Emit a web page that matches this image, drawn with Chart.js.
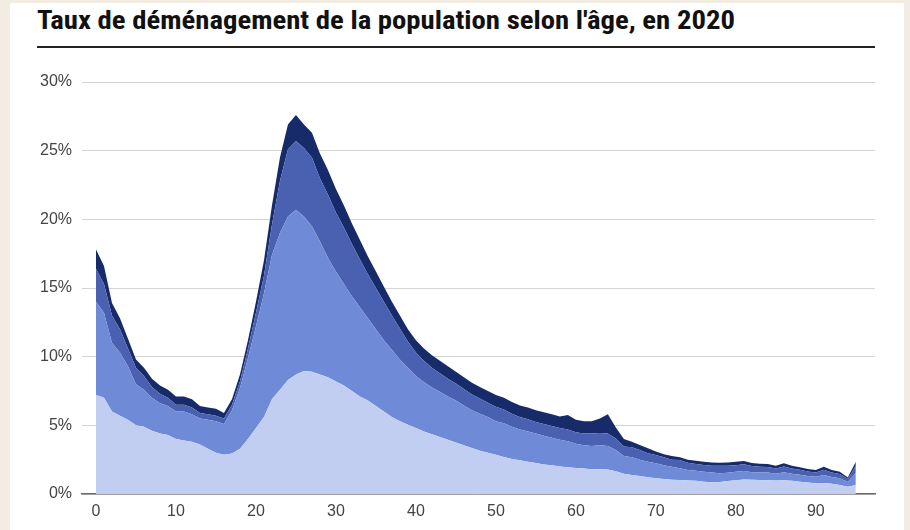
<!DOCTYPE html>
<html lang="fr">
<head>
<meta charset="utf-8">
<title>Taux de déménagement selon l'âge</title>
<script src="https://cdn.jsdelivr.net/npm/chart.js@4.4.1/dist/chart.umd.min.js"></script>
<style>
  html, body { margin: 0; padding: 0; }
  body { width: 910px; height: 530px; background: #f3ece3; position: relative; overflow: hidden; }
  #panel { position: absolute; left: 10px; top: 3px; width: 894px; height: 527px; background: #fff; }
  #title {
    position: absolute; left: 37px; top: 6px; margin: 0; display: inline-block;
    font: bold 25px "Liberation Sans Narrow", "Roboto Condensed", Roboto, sans-serif;
    color: #111; white-space: nowrap; transform-origin: 0 0;
  }
  #rule { position: absolute; left: 37px; top: 46px; width: 838px; height: 2px; background: #222; }
  #wrap { position: absolute; left: 0; top: 0; width: 910px; height: 530px; }
</style>
</head>
<body>
<div id="panel"></div>
<h1 id="title">Taux de déménagement de la population selon l'âge, en 2020</h1>
<div id="rule"></div>
<div id="wrap"><canvas id="moving-chart"></canvas></div>
<script>
// stretch the narrow title font to the reference width
const titleEl = document.getElementById("title");
titleEl.style.transform = "scaleX(" + (698 / titleEl.getBoundingClientRect().width) + ")";

// ages 0 to 95
const ages = Array.from({ length: 96 }, (_, i) => i);

// stacked layers, in % (bottom to top)
const layer1 = [
  7.2, 7.0, 6.0, 5.7, 5.4, 5.0, 4.9, 4.6, 4.4, 4.3,
  4.0, 3.9, 3.8, 3.6, 3.3, 3.0, 2.85, 2.95, 3.3, 4.0,
  4.8, 5.6, 6.9, 7.6, 8.3, 8.7, 8.95, 8.9, 8.7, 8.5,
  8.2, 7.9, 7.5, 7.1, 6.8, 6.4, 6.0, 5.6, 5.3, 5.05,
  4.8, 4.55, 4.35, 4.15, 3.95, 3.75, 3.55, 3.35, 3.15, 3.0,
  2.85, 2.7, 2.55, 2.45, 2.35, 2.25, 2.15, 2.1, 2.0, 1.95,
  1.9, 1.85, 1.8, 1.8, 1.78, 1.65, 1.48, 1.38, 1.31, 1.22,
  1.15, 1.1, 1.04, 1.02, 0.98, 0.96, 0.9, 0.86, 0.88, 0.94,
  1.0, 1.05, 1.03, 1.02, 1.0, 0.98, 1.0, 0.96, 0.9, 0.84,
  0.78, 0.8, 0.74, 0.66, 0.52, 0.65
];
const layer2 = [
  6.8, 6.2, 5.0, 4.6, 3.9, 3.0, 2.7, 2.4, 2.2, 2.1,
  2.0, 2.1, 2.0, 1.9, 2.1, 2.3, 2.25, 3.15, 4.4, 5.9,
  7.4, 9.0, 10.5, 11.4, 11.9, 12.0, 11.25, 10.6, 9.7, 8.7,
  8.0, 7.4, 6.9, 6.5, 6.0, 5.6, 5.2, 4.9, 4.5, 4.15,
  3.8, 3.6, 3.4, 3.3, 3.15, 3.05, 2.9, 2.75, 2.7, 2.6,
  2.45, 2.45, 2.35, 2.25, 2.2, 2.15, 2.1, 2.0, 1.95, 1.9,
  1.75, 1.7, 1.7, 1.75, 1.72, 1.55, 1.29, 1.29, 1.19, 1.13,
  1.08, 1.0, 0.95, 0.85, 0.77, 0.74, 0.72, 0.7, 0.64, 0.61,
  0.62, 0.63, 0.56, 0.55, 0.56, 0.5, 0.58, 0.52, 0.5, 0.47,
  0.47, 0.58, 0.5, 0.48, 0.35, 0.9
];
const layer3 = [
  2.4, 2.1, 2.0, 1.7, 1.3, 1.2, 1.0, 0.8, 0.7, 0.6,
  0.5, 0.5, 0.5, 0.4, 0.4, 0.4, 0.4, 0.4, 0.5, 0.7,
  1.0, 1.3, 2.2, 3.8, 4.9, 5.0, 5.0, 5.0, 4.6, 4.6,
  4.3, 4.1, 3.8, 3.5, 3.2, 3.0, 2.8, 2.5, 2.25, 1.9,
  1.7, 1.55, 1.45, 1.35, 1.3, 1.25, 1.2, 1.15, 1.1, 1.05,
  1.05, 1.0, 0.95, 0.9, 0.9, 0.85, 0.85, 0.85, 0.85, 0.85,
  0.85, 0.85, 0.9, 0.9, 0.9, 0.85, 0.68, 0.73, 0.7, 0.61,
  0.61, 0.57, 0.51, 0.61, 0.53, 0.48, 0.5, 0.5, 0.54, 0.51,
  0.48, 0.48, 0.44, 0.42, 0.41, 0.38, 0.42, 0.38, 0.36, 0.33,
  0.32, 0.38, 0.33, 0.31, 0.22, 0.5
];
const layer4 = [
  1.4, 1.3, 0.9, 0.8, 0.7, 0.6, 0.6, 0.6, 0.6, 0.6,
  0.6, 0.6, 0.6, 0.5, 0.5, 0.5, 0.4, 0.4, 0.5, 0.6,
  0.8, 1.1, 1.4, 1.7, 1.8, 1.9, 1.7, 1.8, 1.8, 1.8,
  1.7, 1.6, 1.5, 1.4, 1.3, 1.2, 1.1, 1.0, 0.95, 0.9,
  0.9, 0.9, 0.9, 0.9, 0.9, 0.85, 0.85, 0.85, 0.85, 0.85,
  0.85, 0.85, 0.85, 0.85, 0.85, 0.85, 0.85, 0.85, 0.85, 1.05,
  0.9, 0.9, 0.9, 1.05, 1.4, 0.8, 0.55, 0.4, 0.37, 0.37,
  0.26, 0.23, 0.27, 0.19, 0.22, 0.25, 0.23, 0.24, 0.22, 0.24,
  0.25, 0.24, 0.22, 0.21, 0.21, 0.19, 0.23, 0.19, 0.19, 0.18,
  0.18, 0.22, 0.18, 0.17, 0.11, 0.3
];

const layers = [layer1, layer2, layer3, layer4];
const colours = ["#c2cef1", "#6f8ad6", "#4a61b1", "#172a69"];
const xTicks = [0, 10, 20, 30, 40, 50, 60, 70, 80, 90];
const yTicks = [0, 5, 10, 15, 20, 25, 30];

const datasets = layers.map((vals, k) => ({
  data: vals.map((v, i) => ({ x: ages[i], y: v })),
  backgroundColor: colours[k],
  borderColor: colours[k],
  borderWidth: 0,
  pointRadius: 0,
  fill: k === 0 ? "origin" : "-1",
  tension: 0,
}));

const ctx = document.getElementById("moving-chart").getContext("2d");
window.movingChart = new Chart(ctx, {
  type: "line",
  data: { datasets: datasets },
  options: {
    responsive: true,
    maintainAspectRatio: false,
    animation: false,
    layout: { padding: { left: 0, right: 35, top: 82, bottom: 0 } },
    plugins: { legend: { display: false }, tooltip: { enabled: false } },
    scales: {
      x: {
        type: "linear",
        min: -1.75,
        max: 97.4,
        afterBuildTicks: (axis) => { axis.ticks = xTicks.map((v) => ({ value: v })); },
        afterFit: (axis) => { axis.height = 36; },
        grid: { display: false, drawTicks: false },
        border: { display: true, color: "#6b6b6b", width: 1.5 },
        ticks: {
          padding: 8,
          maxRotation: 0,
          autoSkip: false,
          color: "#444",
          font: { family: "'Liberation Sans', Arial, sans-serif", size: 16 },
        },
      },
      y: {
        stacked: true,
        min: 0,
        max: 30,
        afterBuildTicks: (axis) => { axis.ticks = yTicks.map((v) => ({ value: v })); },
        afterFit: (axis) => { axis.width = 82; },
        grid: { color: "#d4d4d4", lineWidth: 1, drawTicks: false },
        border: { display: false },
        ticks: {
          padding: 10,
          color: "#444",
          font: { family: "'Liberation Sans', Arial, sans-serif", size: 16 },
          callback: (v) => v + "%",
        },
      },
    },
  },
});
</script>
</body>
</html>
